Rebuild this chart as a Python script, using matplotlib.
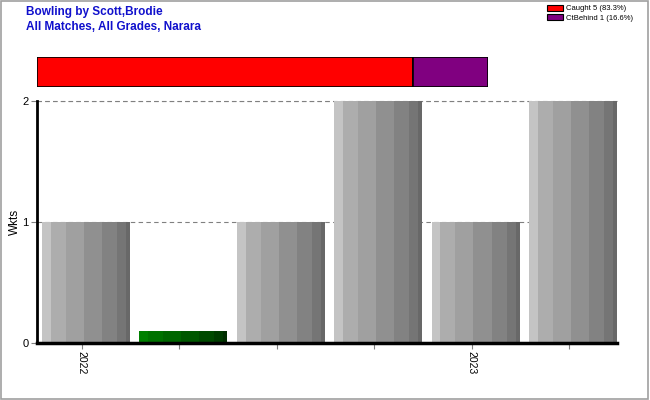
import matplotlib
matplotlib.use("Agg")
import matplotlib.pyplot as plt
from matplotlib.patches import Patch, Rectangle

plt.rcParams['font.family'] = ['Liberation Sans', 'DejaVu Sans']

# Data
tick_labels = ['2022', '', '', '', '2023', '']
wickets = [1, 0.1, 1, 2, 1, 2]
zero_flag = [False, True, False, False, False, False]
dismissal_labels = ['Caught 5 (83.3%)', 'CtBehind 1 (16.6%)']
dismissal_pct = [83.3, 16.6]
dismissal_colors = ['#ff0000', '#800080']

gray_stripes = ['#c4c4c4', '#adadad', '#a0a0a0', '#909090', '#828282', '#757575', '#686868']
green_stripes = ['#008000', '#007200', '#006600', '#005800', '#004a00', '#003c00', '#002e00']
stripe_w = [26, 45, 54, 54, 45, 27, 12]

fig = plt.figure(figsize=(6.5, 4), dpi=100)
fig.patches.append(Rectangle((0.001, 0.002), 0.996, 0.995, transform=fig.transFigure,
                             fill=False, edgecolor='#a0a0a0', linewidth=1.2))

ax = fig.add_axes([37/650, (400-343)/400, (617-37)/650, (343-101)/400])
bw = 0.9
off = 0.04
tot = sum(stripe_w)
for i, v in enumerate(wickets):
    cols = green_stripes if zero_flag[i] else gray_stripes
    left = i + off - bw/2
    for w, c in zip(stripe_w, cols):
        ww = bw * w / tot
        ax.bar(left, v, width=ww, align='edge', color=c, linewidth=0, zorder=3)
        left += ww

ax.set_xlim(-0.46, 5.49)
ax.set_ylim(0, 2)
ax.set_yticks([0, 1, 2])
ax.set_yticklabels(['0', '1', '2'], fontsize=8)
ax.set_xticks(range(len(tick_labels)))
ax.set_xticklabels(tick_labels, rotation=270, fontsize=7.5)
ax.tick_params(axis='x', length=4, color='#808080', pad=2)
ax.tick_params(axis='y', length=4, color='#808080', pad=2)
ax.grid(axis='y', linestyle=(0, (4, 3)), color='#808080', linewidth=0.8, zorder=1)
ax.axhline(2, linestyle=(0, (4, 3)), color='#808080', linewidth=0.8, zorder=1, clip_on=False)
for s in ['top', 'right']:
    ax.spines[s].set_visible(False)
ax.spines['left'].set_linewidth(2)
ax.spines['bottom'].set_linewidth(2.5)
ax.spines['left'].set_zorder(5)
ax.spines['bottom'].set_zorder(5)
ax.set_ylabel('Wkts', fontsize=8.5, labelpad=1)

# Top stacked dismissal bar
bx = fig.add_axes([37/650, (400-87)/400, (488-37)/650, 30/400])
left = 0
for p, c in zip(dismissal_pct, dismissal_colors):
    bx.barh(0, p, left=left, height=1, color=c, edgecolor='black', linewidth=1.2)
    left += p
bx.set_xlim(0, sum(dismissal_pct))
bx.set_ylim(-0.5, 0.5)
bx.axis('off')

fig.text(26/650, 1 - 12/400, 'Bowling by Scott,Brodie', color='#1010cc', fontsize=8.5,
         fontweight='bold', va='center')
fig.text(26/650, 1 - 27/400, 'All Matches, All Grades, Narara', color='#1010cc', fontsize=8.5,
         fontweight='bold', va='center')

handles = [Patch(facecolor=c, edgecolor='black', linewidth=0.8) for c in dismissal_colors]
fig.legend(handles, dismissal_labels, loc='upper left', bbox_to_anchor=(545/650, 1 - 3/400),
           fontsize=5.5, frameon=False, handlelength=2.2, handleheight=0.9,
           handletextpad=0.4, labelspacing=0.2, borderaxespad=0, borderpad=0.2)

fig.savefig('out.png', dpi=100)
